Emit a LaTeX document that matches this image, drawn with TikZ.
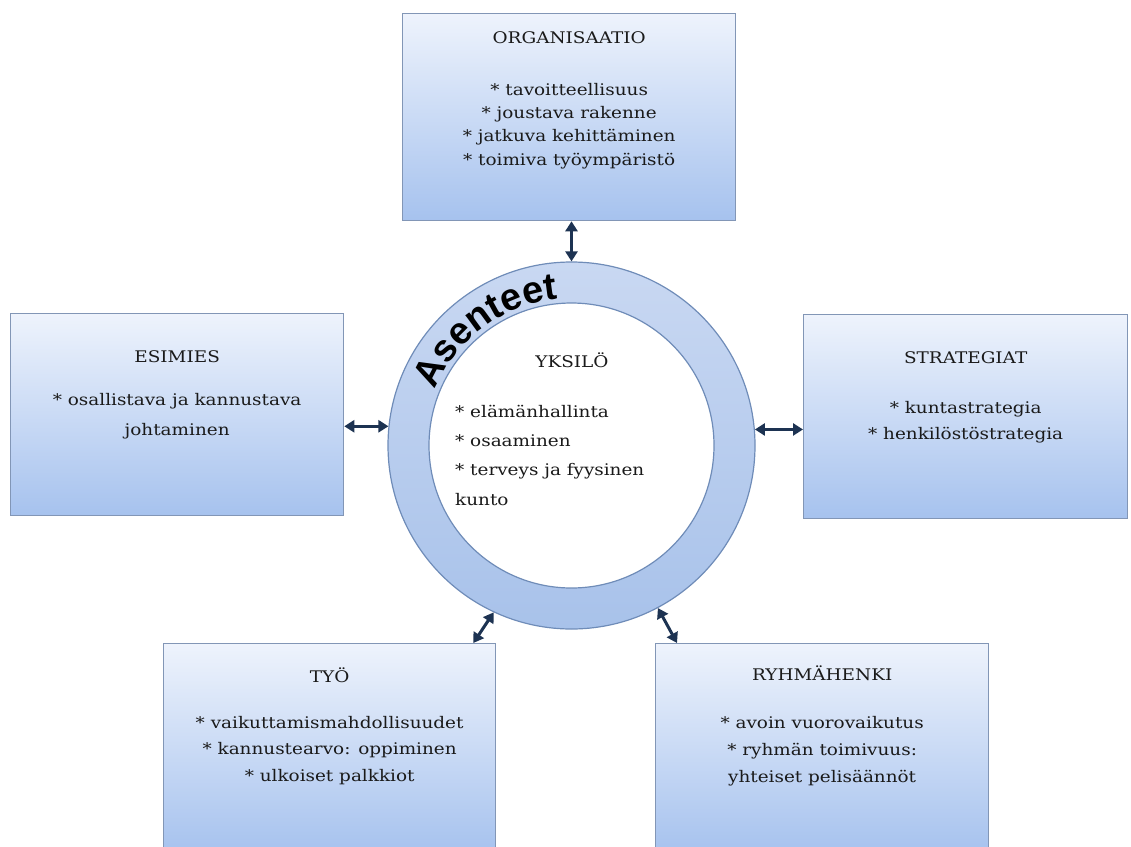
\documentclass[tikz,border=0pt]{standalone}
\usepackage{fontspec}
\setmainfont{DejaVu Serif}[FakeStretch=1.15]
\newfontfamily\asfont{Liberation Sans}
\usetikzlibrary{arrows.meta,calc,decorations.text}
\definecolor{boxtop}{HTML}{EEF3FC}
\definecolor{boxbot}{HTML}{A6C2EE}
\definecolor{boxline}{HTML}{8296B6}
\definecolor{ringtop}{HTML}{C9D8F2}
\definecolor{ringbot}{HTML}{A8C2EA}
\definecolor{ringline}{HTML}{6F8CB8}
\definecolor{arrowc}{HTML}{1D3352}
\definecolor{txt}{HTML}{1A1A1A}
\begin{document}
\begin{tikzpicture}[x=1pt,y=-1pt,
  panel/.style={draw=boxline,line width=1.3pt,top color=boxtop,bottom color=boxbot,
    anchor=north west,inner sep=0pt},
  ttl/.style={anchor=base,inner sep=0pt,text=txt,font=\fontsize{16}{20}\selectfont},
  lst/.style={anchor=base,inner sep=0pt,align=center,text=txt,font=\fontsize{16}{#1}\selectfont},
  dbl/.style={draw=arrowc,line width=3pt,{Triangle[length=10pt,width=12pt]}-{Triangle[length=10pt,width=12pt]}},
  ringc/.style={circle,inner sep=0pt,draw=ringline,line width=1.2pt}
]
\path[use as bounding box,clip] (0,0) rectangle (1131,846);

% boxes
\node[panel,minimum width=333pt,minimum height=207pt] (org) at (402,13) {};
\node[panel,minimum width=333pt,minimum height=202pt] (esim) at (10,313) {};
\node[panel,minimum width=324pt,minimum height=204pt] (strat) at (803,314) {};
\node[panel,minimum width=332pt,minimum height=210pt] (tyo) at (163,643) {};
\node[panel,minimum width=333pt,minimum height=210pt] (ryhm) at (655,643) {};

% ring
\node[ringc,minimum size=367pt,top color=ringtop,bottom color=ringbot] (ring) at (571.5,445.5) {};
\node[ringc,minimum size=285pt,fill=white] (core) at (ring.center) {};

% texts in boxes (base = baseline of the last line)
\node[ttl] (orgT) at ($(org.north)+(0,30)$) {ORGANISAATIO};
\node[lst=23.3] (orgL) at ($(org.north)+(0,152)$) {* tavoitteellisuus\\* joustava rakenne\\* jatkuva kehittäminen\\* toimiva työympäristö};

\node[ttl] (esimT) at ($(esim.north)+(0,49)$) {ESIMIES};
\node[lst=30] (esimL) at ($(esim.north)+(0,122)$) {* osallistava ja kannustava\\johtaminen};

\node[ttl] (stratT) at ($(strat.north)+(0,49)$) {STRATEGIAT};
\node[lst=26] (stratL) at ($(strat.north)+(0,125)$) {* kuntastrategia\\* henkilöstöstrategia};

\node[ttl] (tyoT) at ($(tyo.north)+(0,39)$) {TYÖ};
\node[lst=26.5] (tyoL) at ($(tyo.north)+(0,138)$) {* vaikuttamismahdollisuudet\\* kannustearvo: oppiminen\\* ulkoiset palkkiot};

\node[ttl] (ryhmT) at ($(ryhm.north)+(0,37)$) {RYHMÄHENKI};
\node[lst=27] (ryhmL) at ($(ryhm.north)+(0,139)$) {* avoin vuorovaikutus\\* ryhmän toimivuus:\\yhteiset pelisäännöt};

% centre texts
\node[ttl] (yksT) at (572,367) {YKSILÖ};
\node[anchor=base west,inner sep=0pt,align=left,text=txt,font=\fontsize{16}{29.3}\selectfont] (yksL) at (455,505)
  {* elämänhallinta\\* osaaminen\\* terveys ja fyysinen\\kunto};

% curved label on the ring
\begin{scope}[shift={(ring.center)},x=1pt,y=1pt]
  \path[decorate,decoration={text along path,text align=center,
      text={|\asfont\bfseries\fontsize{38}{40}\selectfont|Asenteet}}]
    (175:147) arc[start angle=175,end angle=78,radius=147];
\end{scope}

% connectors
\draw[dbl] (org.south -| ring.north) -- (ring.north);
\draw[dbl] (esim.east |- ring.174.5) -- (ring.174.5);
\draw[dbl] (ring.5.5) -- (strat.west |- ring.5.5);
\draw[dbl] ($(tyo.north east)+(-23,0)$) -- (ring.245);
\draw[dbl] ($(ryhm.north west)+(22,0)$) -- (ring.298);
\end{tikzpicture}
\end{document}
